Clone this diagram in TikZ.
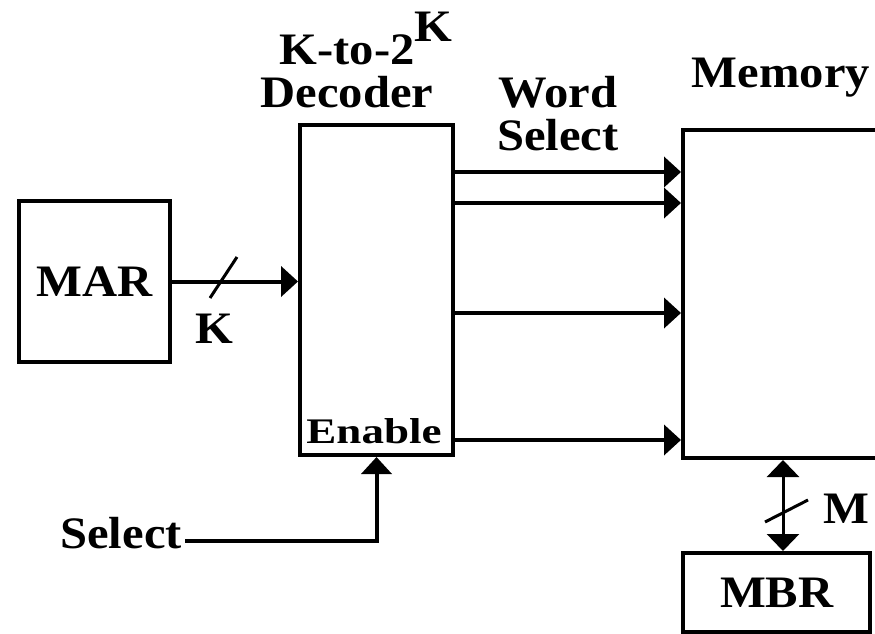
\documentclass[tikz,border=0pt]{standalone}
\usepackage{fontspec}
\usepackage{graphicx}
\usetikzlibrary{arrows.meta}
\newfontfamily\labfont[FakeStretch=1.08]{Liberation Serif}
\newfontfamily\enfont[FakeStretch=1.25]{Liberation Serif}
\begin{document}
\begin{tikzpicture}[x=1pt,y=-1pt,
  lab/.style={font=\labfont\bfseries\fontsize{45}{43}\selectfont, inner sep=0pt},
  box/.style={draw, line width=4pt, inner sep=0pt},
  arr/.style={line width=4pt, -{Triangle[length=17pt,width=30pt]}},
  darr/.style={line width=3pt, {Triangle[length=17pt,width=32pt]}-{Triangle[length=17pt,width=32pt]}},
  tick/.style={line width=3pt}]
\useasboundingbox (0,0) rectangle (875,634);
% boxes
\node[box, lab, minimum width=151pt, minimum height=161pt] (mar) at (94.5,281.5) {MAR};
\node[box, minimum width=153pt, minimum height=330pt] (dec) at (376.5,290) {};
\node[box, anchor=north west, minimum width=320pt, minimum height=328pt] (mem) at (681,128) {};
\node[box, lab, anchor=west, minimum height=79pt, inner xsep=37pt] (mbr) at (681,592.5) {MBR\hspace{130pt}};
% labels
\node[lab, anchor=base, align=center] (dectitle) at (347,107) {K-to-2\rlap{\raisebox{23pt}{K}}\\Decoder};
\node[lab, anchor=base, align=center] (wsel) at (558,150) {Word\\Select};
\node[lab, anchor=base] (memtitle) at (781,88) {Memory};
\node[lab, anchor=base] (klab) at (214,343) {K};
\node[lab, anchor=base] (mlab) at (846,523) {M};
\node[font=\enfont\bfseries\fontsize{36}{36}\selectfont, inner sep=0pt, anchor=base] (en) at (374,443) {Enable};
\node[lab, anchor=base east] (sel) at (182,548) {Select};
% MAR to decoder
\draw[arr] (mar.east) -- (dec.west |- mar.east);
\coordinate (ks) at (223.5,277.5);
\draw[tick] ([shift={(-13.5,20.5)}]ks) -- ([shift={(13.5,-20.5)}]ks);
% word select lines
\foreach \yy [count=\i] in {172,203,313,440} {
  \coordinate (w\i) at (0,\yy);
  \draw[arr] (dec.east |- w\i) -- (mem.west |- w\i);
}
% select to enable
\draw[arr] ([xshift=3pt,yshift=-8pt]sel.east) -| (dec.south);
% memory <-> MBR
\coordinate (mx) at (783,0);
\draw[darr] (mx |- mem.south) -- (mx |- mbr.north);
\coordinate (ms) at (786.5,511);
\draw[tick] ([shift={(-21.5,11)}]ms) -- ([shift={(21.5,-11)}]ms);
\end{tikzpicture}
\end{document}
